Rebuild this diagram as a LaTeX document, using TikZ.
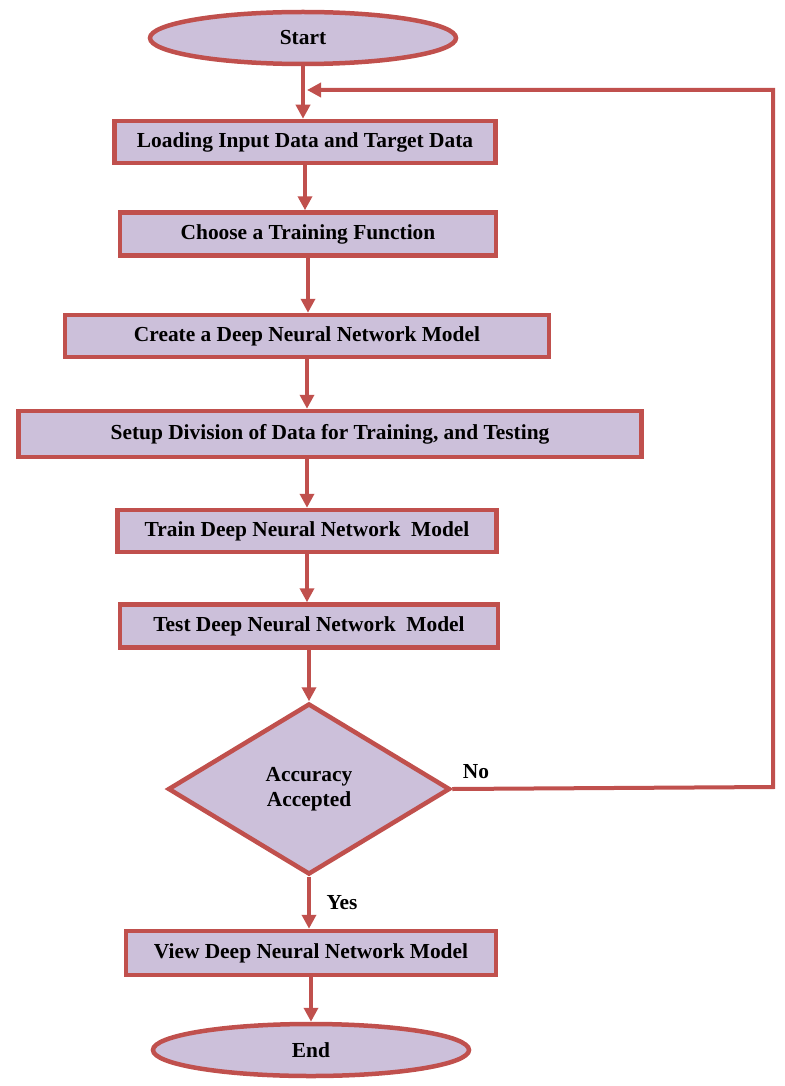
\documentclass[tikz,border=0pt]{standalone}
\usepackage{fontspec}
\setmainfont{Liberation Serif}
\usepackage{tikz}
\usetikzlibrary{shapes.geometric,arrows.meta}
\definecolor{boxfill}{HTML}{CCC0DA}
\definecolor{boxline}{HTML}{C0504D}

\begin{document}
\begin{tikzpicture}[x=1pt,y=-1pt]
			\tikzstyle{terminal} = [ellipse, draw=boxline, fill=boxfill, line width=4.5pt, inner sep=0pt, minimum width=306pt, minimum height=52pt, font=\fontsize{21.4}{25}\selectfont\bfseries]
			\tikzstyle{process} = [rectangle, draw=boxline, fill=boxfill, line width=4.5pt, inner sep=0pt, minimum height=42pt, font=\fontsize{21.4}{25}\selectfont\bfseries]
			\tikzstyle{decision} = [diamond, draw=boxline, fill=boxfill, line width=4.5pt, inner sep=0pt, minimum width=282pt, minimum height=171pt, align=center, font=\fontsize{21.4}{25}\selectfont\bfseries]
			\tikzstyle{answer} = [font=\fontsize{21.4}{25}\selectfont\bfseries]
			\tikzset{edge/.style = {draw=boxline, line width=4pt, -{Triangle[length=14pt,width=14pt]}}}
			\useasboundingbox (0,0) rectangle (784,1086);
			
			\node[terminal](start) at (303,38) {Start};
			\node[process, minimum width=381pt](load) at (305,142) {Loading Input Data and Target Data};
			\node[process, minimum width=376pt, minimum height=43pt](choose) at (308,234) {Choose a Training Function};
			\node[process, minimum width=484pt](create) at (307,336) {Create a Deep Neural Network Model};
			\node[process, minimum width=623pt, minimum height=46pt](setup) at (330,434) {Setup Division of Data for Training, and Testing};
			\node[process, minimum width=379pt](train) at (307,531) {Train Deep Neural Network\ \ Model};
			\node[process, minimum width=378pt, minimum height=43pt](test) at (309,626) {Test Deep Neural Network\ \ Model};
			\node[decision](accuracy) at (309,789) {Accuracy\\Accepted};
			\node[process, minimum width=370pt, minimum height=44pt](view) at (311,953) {View Deep Neural Network Model};
			\node[terminal, minimum width=316pt](finish) at (311,1050) {End};
			
			\draw[edge](start) to (start.south |- load.north);
			\draw[edge](load) to (load.south |- choose.north);
			\draw[edge](choose) to (choose.south |- create.north);
			\draw[edge](create) to (create.south |- setup.north);
			\draw[edge](setup.south -| create.south) to (create.south |- train.north);
			\draw[edge](train) to (train.south |- test.north);
			\draw[edge](test) to (test.south |- accuracy.north);
			\draw[edge](accuracy) to (accuracy.south |- view.north);
			\draw[edge](view) to (view.south |- finish.north);
			
			\coordinate (corner1) at (773,787);
			\coordinate (corner2) at (773,90);
			\coordinate (entry) at (307,90);
			\draw[edge](accuracy.east) -- (corner1) -- (corner2) -- (entry);
			
			\node[answer](no) at (476,772) {No};
			\node[answer](yes) at (342,903) {Yes};
			
			\end{tikzpicture}
\end{document}
